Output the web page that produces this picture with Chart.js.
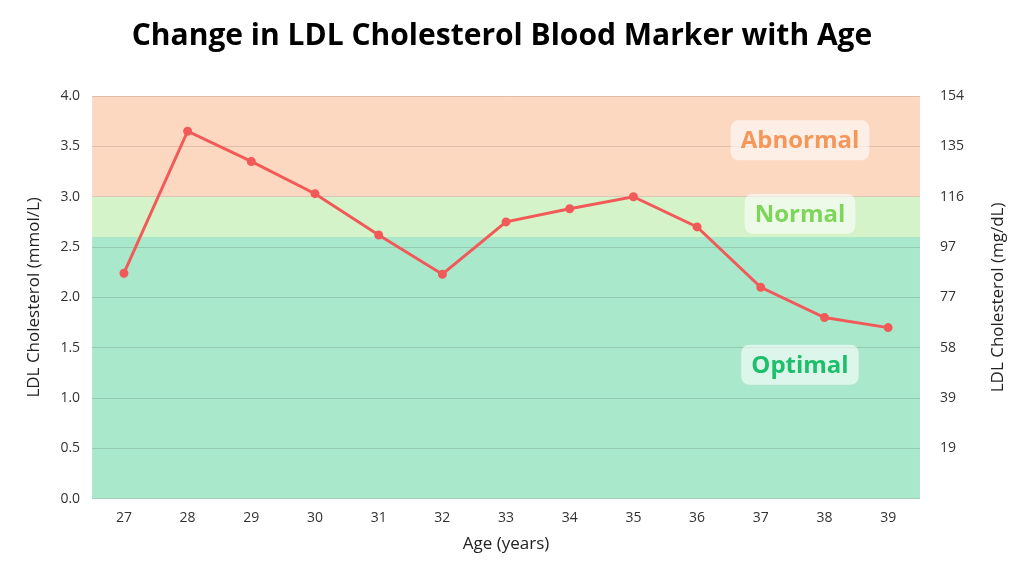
<!DOCTYPE html>
<html>
<head>
<meta charset="utf-8">
<script src="https://cdn.jsdelivr.net/npm/chart.js@4"></script>
<style>
  body { margin: 0; background: #fff; }
  #wrap { width: 1024px; height: 576px; }
</style>
</head>
<body>
<div id="wrap"><canvas id="ldl"></canvas></div>
<script>
const ages = ['27','28','29','30','31','32','33','34','35','36','37','38','39'];
const ldl = [2.24, 3.65, 3.35, 3.03, 2.62, 2.23, 2.75, 2.88, 3.0, 2.7, 2.1, 1.8, 1.7];
const rightTicks = ['', '19', '39', '58', '77', '97', '116', '135', '154'];
const bands = [
    { from: 0, to: 2.6, color: '#aae8cc', label: 'Optimal', labelAt: 1.33, textColor: '#1dbf6a' },
    { from: 2.6, to: 3.0, color: '#d5f3c8', label: 'Normal', labelAt: 2.83, textColor: '#7dd65a' },
    { from: 3.0, to: 4.0, color: '#fdd8c1', label: 'Abnormal', labelAt: 3.56, textColor: '#f5965a' }
];

const bandPlugin = {
    id: 'bands',
    beforeDraw(chart) {
        const { ctx, chartArea: a, scales: { y } } = chart;
        ctx.save();
        bands.forEach(b => {
            const top = y.getPixelForValue(b.to);
            const bot = y.getPixelForValue(b.from);
            ctx.fillStyle = b.color;
            ctx.fillRect(a.left, top, a.right - a.left, bot - top);
        });
        ctx.restore();
    },
    afterDatasetsDraw(chart) {
        const { ctx, chartArea: a, scales: { y } } = chart;
        ctx.save();
        ctx.font = 'bold 24px "Open Sans"';
        ctx.textAlign = 'center';
        ctx.textBaseline = 'middle';
        bands.forEach(b => {
            const cx = a.right - 120;
            const cy = y.getPixelForValue(b.labelAt);
            const w = ctx.measureText(b.label).width + 20;
            ctx.fillStyle = 'rgba(255,255,255,0.6)';
            ctx.beginPath();
            ctx.roundRect(cx - w / 2, cy - 20, w, 40, 8);
            ctx.fill();
            ctx.fillStyle = b.textColor;
            ctx.fillText(b.label, cx, cy + 1);
        });
        // right axis title, reading bottom to top like the left one
        ctx.translate(chart.width - 26, (a.top + a.bottom) / 2);
        ctx.rotate(-Math.PI / 2);
        ctx.font = '17px "Open Sans"';
        ctx.fillStyle = '#222';
        ctx.fillText('LDL Cholesterol (mg/dL)', 0, 0);
        ctx.restore();
    }
};

new Chart(document.getElementById('ldl'), {
    type: 'line',
    data: {
        labels: ages,
        datasets: [{
            data: ldl,
            borderColor: '#f25a5a',
            backgroundColor: '#f25a5a',
            borderWidth: 3,
            pointRadius: 3,
            tension: 0
        }]
    },
    options: {
        responsive: true,
        maintainAspectRatio: false,
        animation: false,
        layout: { padding: { left: 20, right: 40, top: 6, bottom: 18 } },
        plugins: {
            legend: { display: false },
            tooltip: { enabled: false },
            title: {
                display: true,
                text: 'Change in LDL Cholesterol Blood Marker with Age',
                color: '#000',
                font: { family: '"Open Sans"', size: 30, weight: 'bold' },
                padding: { top: 12, bottom: 42 }
            }
        },
        scales: {
            x: {
                offset: true,
                grid: { display: false },
                border: { display: false },
                ticks: { color: '#333', font: { family: '"Open Sans"', size: 14 } },
                title: { display: true, text: 'Age (years)', color: '#222', font: { family: '"Open Sans"', size: 17 } }
            },
            y: {
                min: 0, max: 4,
                ticks: { stepSize: 0.5, color: '#333', padding: 12, font: { family: '"Open Sans"', size: 14 },
                    callback: v => v.toFixed(1) },
                grid: { color: 'rgba(0,0,0,0.12)', drawTicks: false },
                border: { display: false },
                title: { display: true, text: 'LDL Cholesterol (mmol/L)', color: '#222', font: { family: '"Open Sans"', size: 17 } }
            },
            y2: {
                position: 'right',
                min: 0, max: 4,
                ticks: { stepSize: 0.5, color: '#333', padding: 20, font: { family: '"Open Sans"', size: 14 },
                    callback: (v, i) => rightTicks[i] },
                grid: { display: false, drawTicks: false },
                border: { display: false }
            }
        }
    },
    plugins: [bandPlugin]
});
</script>
</body>
</html>
